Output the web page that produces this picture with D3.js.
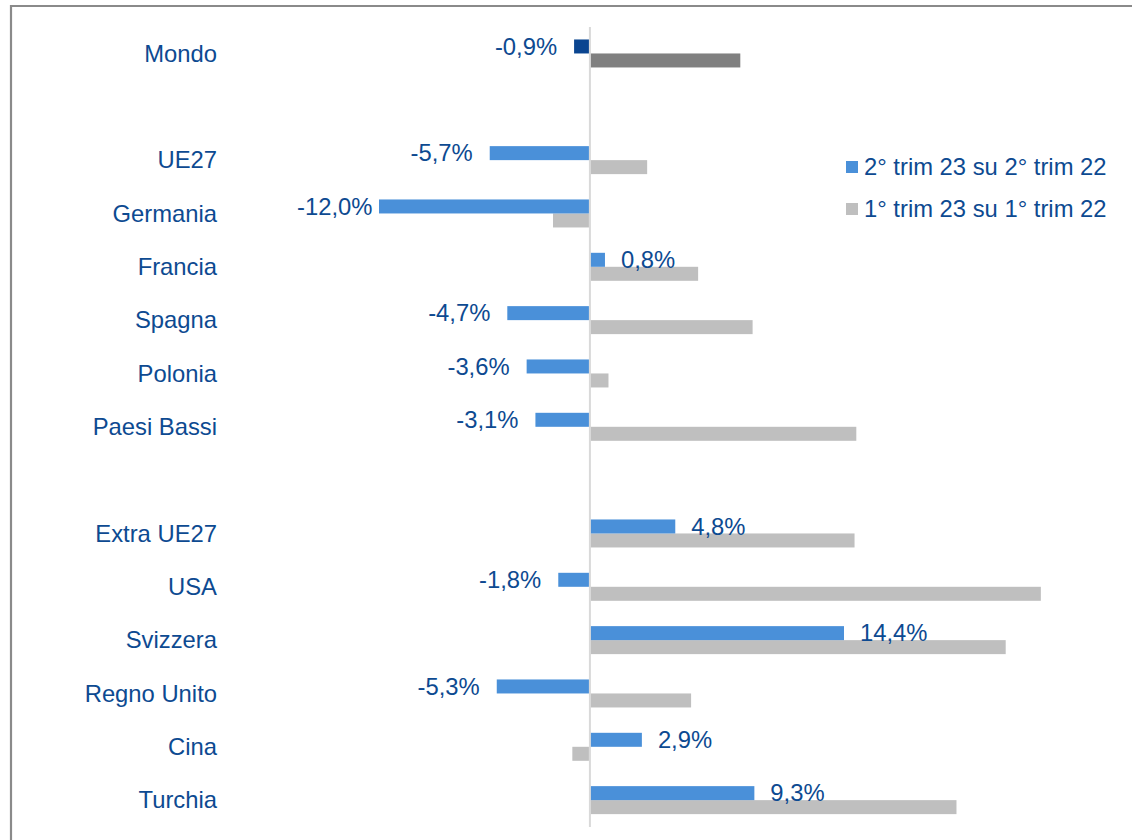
<meta charset="utf-8">
<html>
<head>
<style>
  body { margin: 0; background: #fff; }
  text { font-family: "Liberation Sans", Arial, sans-serif; }
</style>
</head>
<body>
<div id="chart"></div>
<script src="https://d3js.org/d3.v7.min.js"></script>
<script>
// categories (blank entries are the spacer rows)
var categories = ["Mondo", "", "UE27", "Germania", "Francia", "Spagna", "Polonia", "Paesi Bassi",
                  " ", "Extra UE27", "USA", "Svizzera", "Regno Unito", "Cina", "Turchia"];
// 2° trim 23 su 2° trim 22 (labelled)
var q2 = [-0.9, null, -5.7, -12.0, 0.8, -4.7, -3.6, -3.1, null, 4.8, -1.8, 14.4, -5.3, 2.9, 9.3];
// 1° trim 23 su 1° trim 22
var q1 = [8.5, null, 3.2, -2.1, 6.1, 9.2, 1.0, 15.1, null, 15.0, 25.6, 23.6, 5.7, -1.0, 20.8];
var seriesNames = ["2° trim 23 su 2° trim 22", "1° trim 23 su 1° trim 22"];

var W = 1132, H = 840;
var txtColor = "#0d4a91";
var blue = "#4a90d9", blueDark = "#0a4590";
var grey = "#bfbfbf", greyDark = "#808080";
var fs = "23.8px";

var svg = d3.select("#chart").append("svg")
    .attr("width", W).attr("height", H);

// frame
svg.append("path")
    .attr("d", "M11,840 L11,6 L1132,6")
    .attr("fill", "none")
    .attr("stroke", "#8a8a8a")
    .attr("stroke-width", 2.2);

var x = d3.scaleLinear().domain([-12, 14.4]).range([379, 843]);
var y = d3.scaleBand().domain(categories).range([26.8, 826.8]).padding(0);
var barH = 14;

function cy(c) { return y(c) + y.bandwidth() / 2; }

// zero line
svg.append("line")
    .attr("x1", x(0)).attr("x2", x(0))
    .attr("y1", 27).attr("y2", 827)
    .attr("stroke", "#d9d9d9")
    .attr("stroke-width", 2);

var rows = categories.map(function(c, i) {
  return {cat: c, a: q2[i], b: q1[i], world: i === 0};
}).filter(function(d) { return d.a !== null; });

// category labels
svg.append("g").selectAll("text")
  .data(rows).join("text")
    .attr("x", 217)
    .attr("y", function(d) { return cy(d.cat); })
    .attr("dy", "0.35em")
    .attr("text-anchor", "end")
    .attr("fill", txtColor)
    .style("font-size", fs)
    .text(function(d) { return d.cat; });

// grey bars (1° trim)
svg.append("g").selectAll("rect")
  .data(rows).join("rect")
    .attr("x", function(d) { return d.b < 0 ? x(d.b) : x(0) + 1; })
    .attr("width", function(d) { return Math.abs(x(d.b) - x(0)) - (d.b < 0 ? 1 : 0); })
    .attr("y", function(d) { return cy(d.cat); })
    .attr("height", barH)
    .attr("fill", function(d) { return d.world ? greyDark : grey; });

// blue bars (2° trim)
svg.append("g").selectAll("rect")
  .data(rows).join("rect")
    .attr("x", function(d) { return d.a < 0 ? x(d.a) : x(0) + 1; })
    .attr("width", function(d) { return Math.abs(x(d.a) - x(0)) - (d.a < 0 ? 1 : 0); })
    .attr("y", function(d) { return cy(d.cat) - barH; })
    .attr("height", barH)
    .attr("fill", function(d) { return d.world ? blueDark : blue; });

// value labels
var fmt = function(v) { return d3.format(".1f")(v).replace("−", "-").replace(".", ",") + "%"; };
svg.append("g").selectAll("text")
  .data(rows).join("text")
    .attr("y", function(d) { return cy(d.cat) - barH / 2; })
    .attr("dy", "0.35em")
    .attr("fill", txtColor)
    .style("font-size", fs)
    .text(function(d) { return fmt(d.a); })
    .each(function(d) {
      var t = d3.select(this), w = this.getComputedTextLength();
      if (d.a >= 0) {
        t.attr("x", x(d.a) + 17);
      } else {
        // keep long labels inside the plot area
        t.attr("x", Math.max(x(d.a) - 17 - w, 297));
      }
    });

// legend
var leg = svg.append("g");
[blue, grey].forEach(function(c, i) {
  var ly = 167 + i * 42;
  leg.append("rect")
      .attr("x", 846).attr("y", ly - 6)
      .attr("width", 12).attr("height", 12)
      .attr("fill", c);
  leg.append("text")
      .attr("x", 864).attr("y", ly)
      .attr("dy", "0.35em")
      .attr("fill", txtColor)
      .style("font-size", fs)
      .text(seriesNames[i]);
});
</script>
</body>
</html>
